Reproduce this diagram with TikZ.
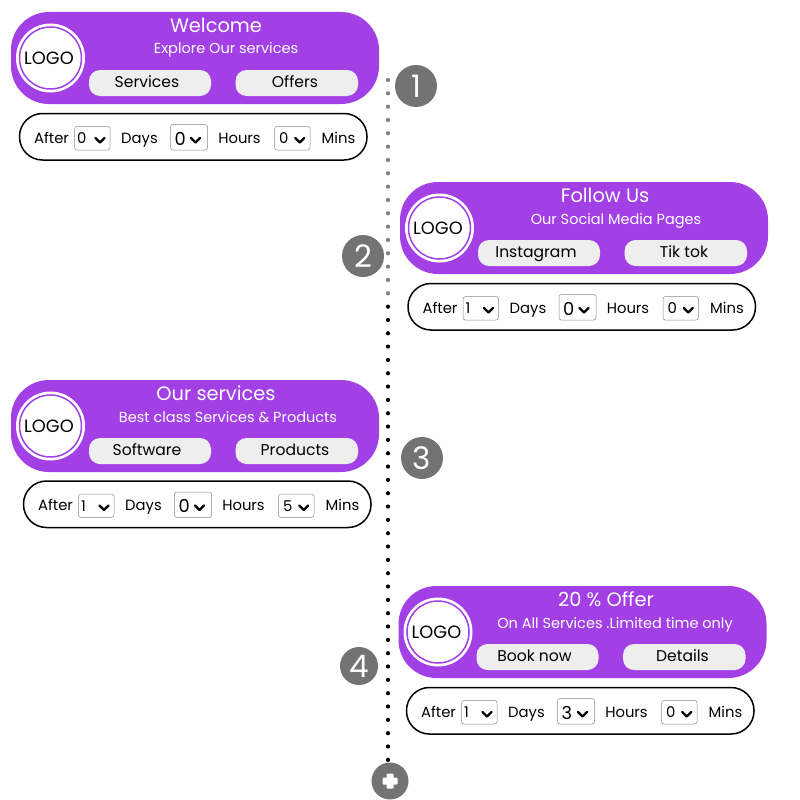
\documentclass[tikz,border=0pt]{standalone}
\usepackage{fontspec}
\setmainfont{Poppins}
\definecolor{cardpurple}{HTML}{A240E6}
\definecolor{btngray}{HTML}{EEEEEE}
\definecolor{badgegray}{HTML}{737373}
\definecolor{dotgray}{HTML}{808080}
\definecolor{selgray}{HTML}{8A8A8A}
\tikzset{
  px/.style={x=1pt,y=-1pt},
  cardbox/.style={fill=cardpurple,rounded corners=38pt},
  btnbox/.style={fill=btngray,rounded corners=11pt},
  pillbox/.style={draw=black,line width=1.5pt,fill=white,rounded corners=23pt},
  selbox/.style={draw=selgray,line width=0.5pt,fill=white,rounded corners=2.5pt},
  logoc/.style={circle,fill=white,minimum size=69pt,inner sep=0pt},
  logotxt/.style={anchor=base,text=black,font=\fontsize{17.8}{20}\selectfont,inner sep=0pt},
  titletxt/.style={anchor=base,text=white,font=\fontsize{19.4}{22}\selectfont,inner sep=0pt},
  subtxt/.style={anchor=base,text=white,font=\fontsize{14.5}{16}\selectfont,inner sep=0pt},
  btntxt/.style={anchor=base,text=black,font=\fontsize{15.6}{18}\selectfont,inner sep=0pt},
  pilltxt/.style={anchor=base,text=black,font=\fontsize{14.8}{17}\selectfont,inner sep=0pt},
  badge/.style={circle,fill=badgegray,text=white,inner sep=0pt,font=\fontsize{31}{34}\selectfont},
}
% #1 name, #2 dx, #3 dy, #4 title x, #5 title, #6 sub x, #7 sub, #8 btn1, #9 btn2
\newcommand{\cardgroup}[9]{%
  \begin{scope}[shift={(#2,#3)}]
    \fill[cardbox] (11,12) rectangle (379,104);
    \node[logoc] (#1logo) at (50.5,58) {};
    \draw[cardpurple,line width=1.5pt] (50.5,58) circle (31);
    \node[logotxt] (#1logotxt) at (49,64.5) {LOGO};
    \node[titletxt] (#1title) at (#4,32.5) {#5};
    \node[subtxt] (#1sub) at (#6,54) {#7};
    \fill[btnbox] (89,70) rectangle (211,96);
    \fill[btnbox] (235.5,70) rectangle (358,96);
    \node[btntxt] (#1ba) at (147,87) {#8};
    \node[btntxt] (#1bb) at (295,87) {#9};
  \end{scope}}
% #1 name, #2 dx, #3 dy, #4 #5 #6 values
\newcommand{\pillgroup}[6]{%
  \begin{scope}[shift={(#2,#3)}]
    \draw[pillbox] (19.5,113.5) rectangle (367,160);
    \node[pilltxt] (#1after) at (51.5,143) {After};
    \node[pilltxt] (#1days) at (139.5,143) {Days};
    \node[pilltxt] (#1hours) at (239.5,143) {Hours};
    \node[pilltxt] (#1mins) at (338.5,143) {Mins};
    \draw[selbox] (74.5,126.5) rectangle (110,150);
    \draw[selbox] (170.5,124.5) rectangle (207.5,150);
    \draw[selbox] (274.5,126.5) rectangle (310,150);
    \node[pilltxt,anchor=base west] (#1va) at (77,143.5) {#4};
    \node[pilltxt,anchor=base west,font=\fontsize{17.8}{20}\selectfont] (#1vb) at (174.5,145) {#5};
    \node[pilltxt,anchor=base west] (#1vc) at (279,143.5) {#6};
    \foreach \cx in {100,195.5,299.7}
      \draw[black,line width=2.4pt,line cap=round,line join=round] (\cx-4.5,138) -- (\cx,142.5) -- (\cx+4.5,138);
  \end{scope}}
\begin{document}
\begin{tikzpicture}[px]
\useasboundingbox (0,0) rectangle (800,800);
\fill[white] (0,0) rectangle (800,800);
% dots
\foreach \i in {0,...,16} \fill[dotgray] (388,80+13.33*\i) circle (2.1);
\foreach \i in {17,...,51} \fill[black] (388,80+13.33*\i) circle (2.1);
\cardgroup{a}{0}{0}{216}{Welcome}{226}{Explore Our services}{Services}{Offers}
\pillgroup{a}{0}{0}{0}{0}{0}
\cardgroup{b}{389}{170}{216}{Follow Us}{227}{Our Social Media Pages}{Instagram}{Tik tok}
\pillgroup{b}{388.5}{170}{1}{0}{0}
\cardgroup{c}{0}{368}{216}{Our services}{228}{Best class Services \& Products}{Software}{Products}
\pillgroup{c}{4}{367.5}{1}{0}{5}
\cardgroup{d}{387.5}{574}{218.5}{20 \% Offer}{227.5}{On All Services .Limited time only}{Book now}{Details}
\pillgroup{d}{387}{574}{1}{3}{0}
\node[badge,minimum size=42pt] (n1) at (416,86) {1};
\node[badge,minimum size=42pt] (n2) at (363,256) {2};
\node[badge,minimum size=42pt] (n3) at (422,458) {3};
\node[badge,minimum size=38pt] (n4) at (359,666) {4};
\node[circle,fill=badgegray,minimum size=37pt,inner sep=0pt] (plus) at (390,781) {};
\fill[white,rounded corners=1pt] (386.5,773.5) rectangle (393.5,788.5);
\fill[white,rounded corners=1pt] (382.5,777.5) rectangle (397.5,784.5);
\end{tikzpicture}
\end{document}
